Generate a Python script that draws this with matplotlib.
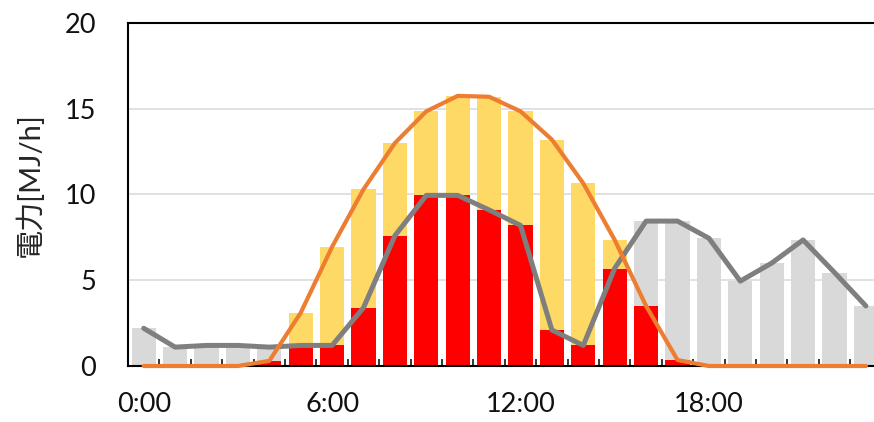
"""
Hourly electricity: demand, PV generation and self-consumption.
"""
import numpy as np
import matplotlib
matplotlib.use('Agg')
import matplotlib.pyplot as plt

# hourly values [MJ/h]
hours = list(range(24))
demand = [2.2, 1.1, 1.2, 1.2, 1.1, 1.2, 1.2, 3.4, 7.6, 9.95, 9.95, 9.1,
          8.2, 2.1, 1.2, 5.7, 8.45, 8.45, 7.45, 4.95, 6.0, 7.35, 5.45, 3.5]
pv = [0.0, 0.0, 0.0, 0.0, 0.3, 3.1, 6.95, 10.3, 13.0, 14.85, 15.75, 15.7,
      14.85, 13.2, 10.65, 7.35, 3.5, 0.35, 0.0, 0.0, 0.0, 0.0, 0.0, 0.0]
self_use = [0.0, 0.0, 0.0, 0.0, 0.3, 1.2, 1.2, 3.4, 7.6, 9.95, 9.95, 9.1,
            8.2, 2.1, 1.2, 5.65, 3.5, 0.35, 0.0, 0.0, 0.0, 0.0, 0.0, 0.0]
tick_pos = [0, 6, 12, 18]
tick_labels = ['0:00', '6:00', '12:00', '18:00']

plt.rcParams['font.family'] = ['Lato', 'Noto Sans CJK JP', 'DejaVu Sans']

fig = plt.figure(figsize=(8.74, 4.22), dpi=100)
# plot area runs past the right edge of the image, as in the reference
ax = fig.add_axes([128 / 874, 56 / 422, 753.6 / 874, 343 / 422])

width = 0.77
ax.bar(hours, demand, width=width, color='#D9D9D9', zorder=2)
ax.bar(hours, pv, width=width, color='#FFD966', zorder=3)
ax.bar(hours, self_use, width=width, color='#FF0000', zorder=4)
ax.plot(hours, demand, color='#7F7F7F', lw=3.6, solid_capstyle='round',
        solid_joinstyle='round', zorder=8, clip_on=False)
ax.plot(hours, pv, color='#ED7D31', lw=3.0, solid_capstyle='round',
        solid_joinstyle='round', zorder=9, clip_on=False)

ax.set_xlim(-0.5, 23.5)
ax.set_ylim(0, 20)
ax.set_yticks([0, 5, 10, 15, 20])
ax.yaxis.grid(True, color='#D9D9D9', lw=1.1, zorder=0)
ax.set_axisbelow(True)

ax.set_xticks(tick_pos)
ax.set_xticklabels(tick_labels)
ax.set_xticks(np.arange(0.5, 23.5, 1), minor=True)
ax.tick_params(axis='x', which='major', length=0, pad=19, labelsize=19.5,
               labelcolor='#111111')
ax.tick_params(axis='x', which='minor', direction='in', length=5, width=1.1)
ax.tick_params(axis='y', length=0, pad=23, labelsize=19.5,
               labelcolor='#111111')

for s in ax.spines.values():
    s.set_linewidth(1.5)
    s.set_zorder(7)

ax.set_ylabel('電力[MJ/h]', fontsize=21, color='#262626',
              family=['Lato', 'Noto Sans CJK JP'])
ax.yaxis.set_label_coords(-0.112, 0.53)

fig.savefig('out.png', dpi=100)
